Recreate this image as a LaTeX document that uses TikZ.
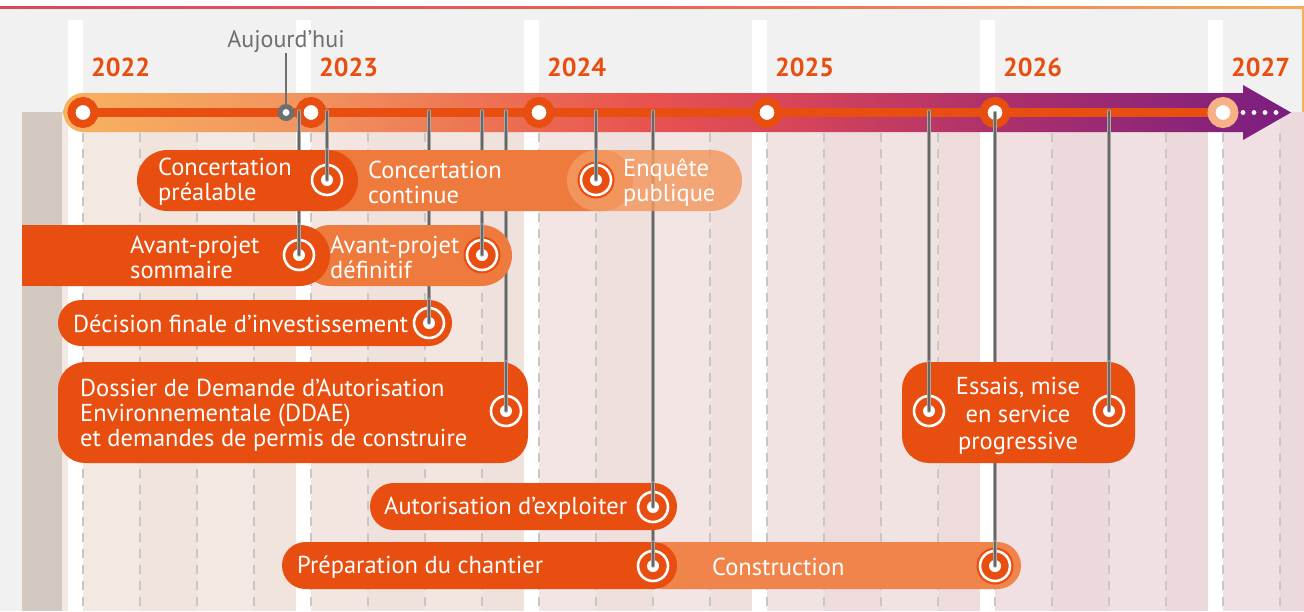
\documentclass[tikz,border=0pt]{standalone}
\usepackage{fontspec}
\setmainfont{PT Sans}
\usetikzlibrary{calc}
\definecolor{dor}{HTML}{E84E0F}
\definecolor{mor}{HTML}{EE7A3E}
\definecolor{cor}{HTML}{F1844A}
\definecolor{lor}{HTML}{F39A62}
\definecolor{bgc}{HTML}{F1F1F1}
\definecolor{taupe}{HTML}{D3C9C0}
\definecolor{stemedge}{HTML}{A9A9A9}
\definecolor{stemcore}{HTML}{666666}
\definecolor{todayc}{HTML}{6F6F6F}
\definecolor{ring27}{HTML}{F6B186}
\definecolor{rbord}{HTML}{F6AF5C}
\definecolor{la0}{HTML}{F4E9E2}\definecolor{da0}{HTML}{F0E4DC}
\definecolor{la1}{HTML}{F3E6E0}\definecolor{da1}{HTML}{EFE1DB}
\definecolor{la2}{HTML}{F2E5E3}\definecolor{da2}{HTML}{EFE0DE}
\definecolor{la3}{HTML}{F2E3E3}\definecolor{da3}{HTML}{EEDCDC}
\definecolor{la4}{HTML}{F0E0E1}\definecolor{da4}{HTML}{ECD9DB}
\definecolor{la5}{HTML}{F0E0E3}\definecolor{da5}{HTML}{ECD9DC}
\definecolor{b0}{RGB}{247,178,95}
\definecolor{b1}{RGB}{242,148,95}
\definecolor{b2}{RGB}{238,125,85}
\definecolor{b3}{RGB}{232,82,80}
\definecolor{b4}{RGB}{213,68,90}
\definecolor{b5}{RGB}{172,48,108}
\definecolor{b6}{RGB}{122,30,128}
\definecolor{t0}{RGB}{216,70,96}
\definecolor{t1}{RGB}{234,100,84}
\definecolor{t2}{RGB}{245,170,88}
\pgfdeclarehorizontalshading{bandshade}{100bp}{color(0bp)=(b0); color(25bp)=(b0); color(34.63bp)=(b1); color(39.93bp)=(b2); color(48.89bp)=(b3); color(55bp)=(b4); color(63.15bp)=(b5); color(75bp)=(b6); color(100bp)=(b6)}
\pgfdeclarehorizontalshading{topshade}{100bp}{color(0bp)=(t0); color(25bp)=(t0); color(50bp)=(t1); color(75bp)=(t2); color(100bp)=(t2)}
\begin{document}
\begin{tikzpicture}[x=1pt,y=-1pt,
  lbl/.style={text=white, font=\fontsize{24.5}{25}\selectfont, inner sep=0pt, align=left},
  yearlbl/.style={text=dor, font=\fontsize{26}{30}\selectfont\bfseries, inner sep=0pt},
  yc/.style={circle, minimum size=23pt, inner sep=0pt, fill=white, draw=dor, line width=8pt},
  mk/.style={circle, minimum size=30pt, inner sep=0pt, fill=dor, draw=white, line width=2.6pt,
    preaction={draw=dor, line width=7pt},
    path picture={\fill[white] (path picture bounding box.center) circle (6pt);}},
  stem/.style={draw=stemedge, line width=0.8pt, double=stemcore, double distance=1.8pt, line cap=round},
  qline/.style={draw=black!22, line width=1.2pt, dash pattern=on 9pt off 7pt}
]
\useasboundingbox (0,0) rectangle (1304,611);
\clip (0,0) rectangle (1304,611);
\fill[white] (0,0) rectangle (1304,611);
\fill[bgc] (0,8.5) rectangle (1304,611);
\shade[shading=topshade] (0,6.5) rectangle (1304,8.5);
\fill[rbord] (1301.5,7) rectangle (1304,611);
% columns
\fill[la0] (62,112) rectangle (83,611);
\foreach \i in {0,...,5}{
  \pgfmathsetmacro\X{83+228*\i}
  \fill[la\i] (\X,112) rectangle ({\X+57},611);
  \fill[da\i] ({\X+57},112) rectangle ({\X+114},611);
  \fill[la\i] ({\X+114},112) rectangle ({\X+171},611);
  \fill[da\i] ({\X+171},112) rectangle ({\X+228},611);
}
\fill[taupe] (22,112) rectangle (62,611);
\foreach \i in {0,...,5}{
  \fill[white] ({68+228*\i},20) rectangle ({83+228*\i},611);
}
\foreach \i in {0,...,5}{
  \foreach \q in {0,1,2,3}{
    \draw[qline] ({83+228*\i+57*\q},133) -- ({83+228*\i+57*\q},615);
  }
}
% band
\shade[shading=bandshade] (83,93) -- (1243,93) -- (1243,85) -- (1291,112.5) -- (1243,140) -- (1243,132) -- (83,132) arc[start angle=270, end angle=90, radius=19.5pt] -- cycle;
\foreach \i/\yr in {0/2022,1/2023,2/2024,3/2025,4/2026,5/2027}{
  \coordinate (c\yr) at ({83+228*\i},112.5);
  \node[yearlbl, anchor=base west] (yl\yr) at ({91+228*\i},76) {\yr};
}
\draw[dor, line width=8.5pt] (c2022) -- (c2027);
\foreach \yr in {2022,2023,2024,2025,2026}{
  \node[yc] (y\yr) at (c\yr) {};
}
\node[yc, draw=ring27] (y2027) at (c2027) {};
\foreach \k/\x in {1/1243,2/1254,3/1265,4/1276}{
  \fill[white] (\x,112.5) circle (2.4pt);
}
% today
\node[circle, minimum size=12pt, inner sep=0pt, fill=white, draw=todayc, line width=5pt] (today) at (286,112.5) {};
\node[text=todayc, font=\fontsize{24}{26}\selectfont, inner sep=0pt, anchor=base] (todaylbl) at (286,47) {Aujourd’hui};
\coordinate (todaytop) at (286,53);
\draw[todayc, line width=2.5pt] (today.north) -- (todaytop);
% marker positions and stem sources
\coordinate (p_pre) at (327,180);
\coordinate (p_enq) at (596,180);
\coordinate (p_aps) at (299,255);
\coordinate (p_apd) at (482,255);
\coordinate (p_dec) at (429,323);
\coordinate (p_ddae) at (506,411);
\coordinate (p_aut) at (653,507);
\coordinate (p_prep) at (653,566);
\coordinate (p_cons) at (995,566);
\coordinate (p_ess1) at (929,411);
\coordinate (p_ess2) at (1109,411);
\foreach \n in {pre,enq,aps,apd,dec,ddae,prep,ess1,ess2}{
  \coordinate (s_\n) at (p_\n |- 0,111);
  \draw[stem] (s_\n) -- (p_\n);
}
\draw[stem] (y2026.center) -- (p_cons);
% bars row 1
\fill[mor, rounded corners=30.5pt] (300,150) rectangle (633,211);
\fill[lor, opacity=.85, rounded corners=30.5pt] (567,150) rectangle (742,211);
\fill[dor, rounded corners=30.5pt] (137,150) rectangle (358,211);
% row 2
\fill[mor, rounded corners=30.5pt] (300,225) rectangle (512,286);
\fill[dor, rounded corners=30.5pt] (22,225) rectangle (330,286);
\fill[dor] (22,225) rectangle (60,286);
% row 3
\fill[dor, rounded corners=23pt] (58,300) rectangle (452,346);
% DDAE and essais
\fill[dor, rounded corners=27pt] (58,362) rectangle (528,463);
\fill[dor, rounded corners=27pt] (902,362) rectangle (1135,463);
% autorisation
\fill[dor, rounded corners=23.5pt] (370,483) rectangle (677,530);
% construction / preparation
\fill[cor, rounded corners=23.5pt] (640,542) rectangle (1021,589);
\fill[dor, rounded corners=23.5pt] (282,542) rectangle (677,589);
% texts
\node[lbl, anchor=west] (t_pre) at (158,182) {Concertation\\préalable};
\node[lbl, anchor=west] (t_cont) at (368,182) {Concertation\\continue};
\node[lbl, anchor=west] (t_enq) at (623,182) {Enquête\\publique};
\node[lbl, anchor=west] (t_aps) at (130,257) {Avant-projet\\sommaire};
\node[lbl, anchor=west] (t_apd) at (330,257) {Avant-projet\\définitif};
\node[lbl, anchor=west] (t_dec) at (73,324) {Décision finale d’investissement};
\node[lbl, anchor=west] (t_ddae) at (80,415) {Dossier de Demande d’Autorisation\\Environnementale (DDAE)\\et demandes de permis de construire};
\node[lbl, anchor=west] (t_aut) at (384,508) {Autorisation d’exploiter};
\node[lbl, anchor=west] (t_prep) at (297,567) {Préparation du chantier};
\node[lbl, anchor=west] (t_cons) at (712,567) {Construction};
\node[lbl, align=center, font=\fontsize{24.5}{27.5}\selectfont] (t_ess) at (1018,416) {Essais, mise\\en service\\progressive};
% markers
\foreach \n in {pre,enq,aps,apd,dec,ddae,aut,prep,cons,ess1,ess2}{
  \node[mk] (m_\n) at (p_\n) {};
}
% visible stem ends over own bars
\draw[stem] (p_pre |- 0,150) -- (m_pre.center);
\draw[stem] (p_enq |- 0,150) -- (m_enq.center);
\draw[stem] (p_aps |- 0,225) -- (m_aps.center);
\draw[stem] (p_apd |- 0,225) -- (m_apd.center);
\draw[stem] (p_dec |- 0,300) -- (m_dec.center);
\draw[stem] (p_ddae |- 0,362) -- (m_ddae.center);
\draw[stem] (p_aut |- 0,483) -- (m_aut.center);
\draw[stem] (p_prep |- 0,542) -- (m_prep.center);
\draw[stem] (p_cons |- 0,542) -- (m_cons.center);
\draw[stem] (p_ess1 |- 0,362) -- (m_ess1.center);
\draw[stem] (p_ess2 |- 0,362) -- (m_ess2.center);
\end{tikzpicture}
\end{document}
